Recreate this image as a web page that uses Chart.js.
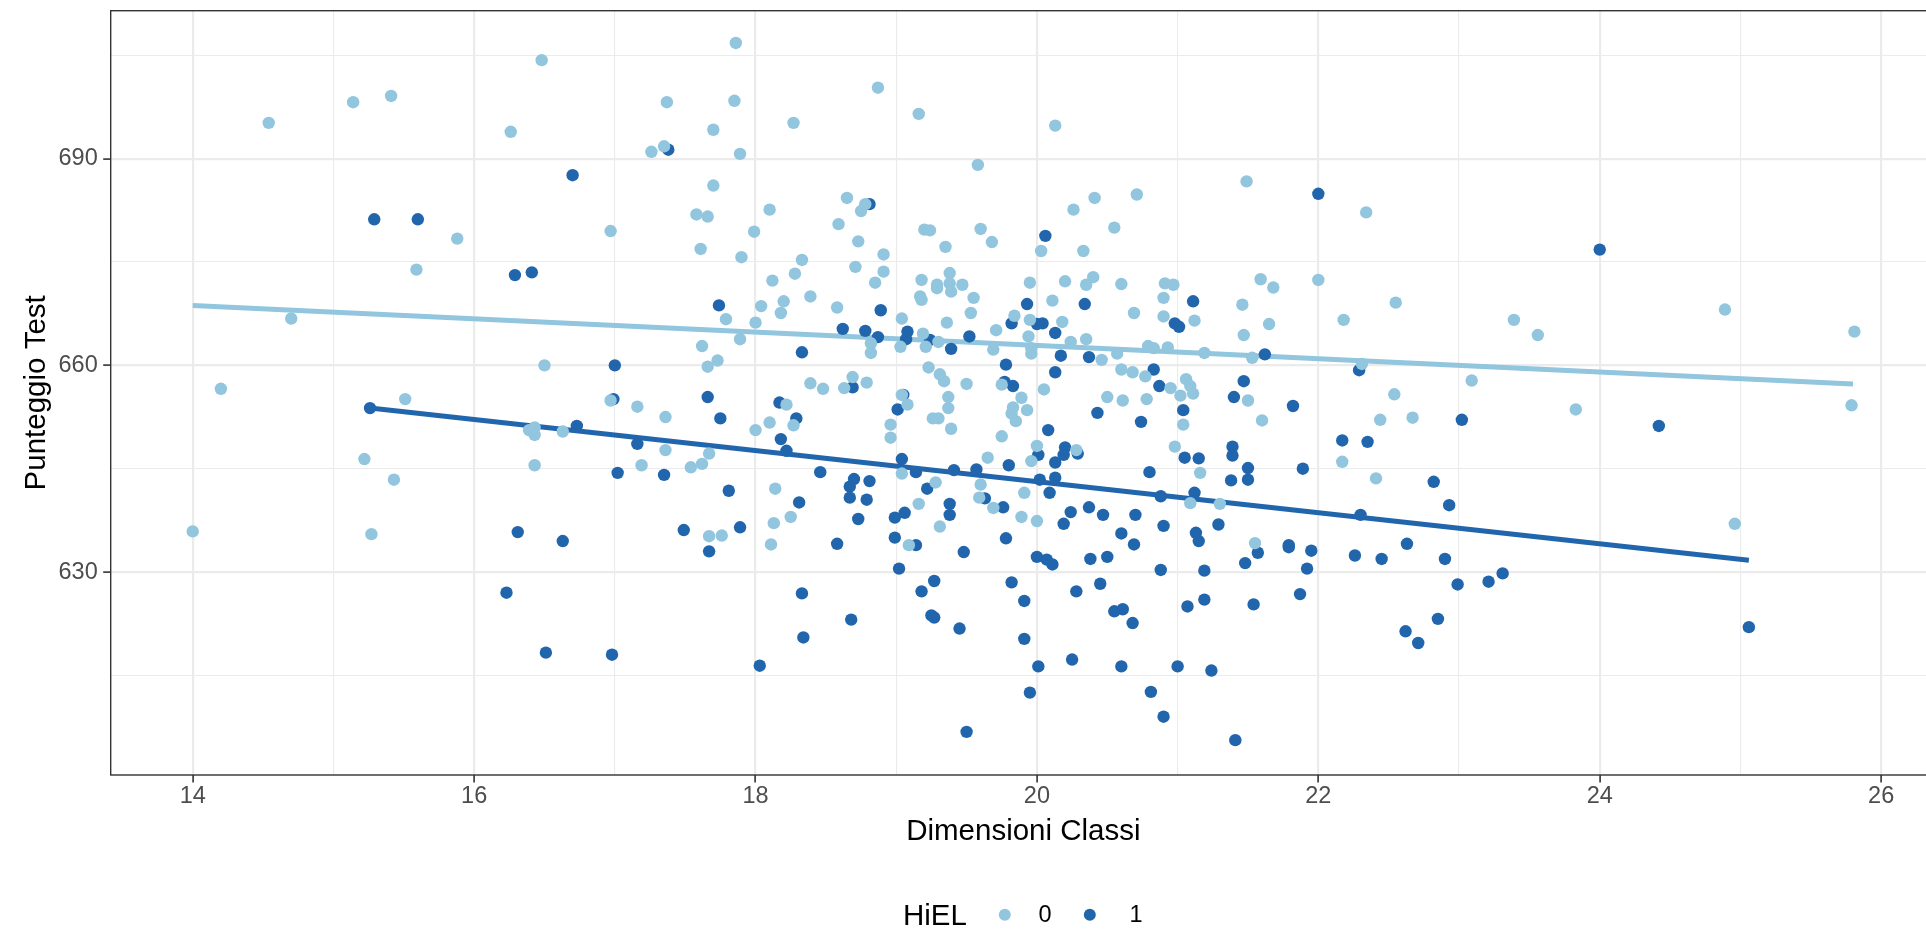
<!DOCTYPE html>
<html>
<head>
<meta charset="utf-8">
<script src="https://cdn.jsdelivr.net/npm/chart.js@4.4.1/dist/chart.umd.min.js"></script>
<style>
  html, body { margin: 0; padding: 0; background: #ffffff; overflow: hidden; width: 1926px; height: 929px; }
  #wrap { position: relative; width: 1946px; height: 929px; }
  #legend { position: absolute; left: 0; top: 0; width: 1926px; height: 929px; pointer-events: none;
            font-family: "Liberation Sans", Arial, sans-serif; color: #000000; }
  #legend span { position: absolute; white-space: nowrap; line-height: 1; transform: translateY(-50%); }
  #legend .dot { width: 12.4px; height: 12.4px; border-radius: 50%; transform: translate(-50%, -50%); }
</style>
</head>
<body>
<div id="wrap">
  <canvas id="c" width="1946" height="929"></canvas>
  <div id="legend"></div>
</div>
<script>
// ---- data ----
const seriesNames = ["0", "1"];
const legendTitle = "HiEL";
const xTitle = "Dimensioni Classi";
const yTitle = "Punteggio Test";

// HiEL = 0 (light)
const x0 = [16.48,14.54,15.14,15.41,16.26,15.88,15.59,
14.70,14.20,15.51,15.22,15.43,16.50,16.39,16.43,16.43,16.63,16.43,14.00,15.27,
17.86,18.87,17.37,17.85,17.70,18.27,17.26,17.35,17.89,17.70,16.97,17.58,17.66,18.10,17.99,17.61,17.90,18.65,18.78,18.75,18.59,18.73,18.91,18.33,18.71,18.28,18.91,
19.16,20.13,19.58,20.26,20.41,20.71,19.20,19.24,19.60,19.68,19.35,20.55,20.03,20.33,19.38,
21.49,22.34,
21.59,21.68,22.00,21.46,22.55,22.18,21.65,21.47,23.39,23.56,24.89,25.81,21.19,21.53,22.31,23.09,21.50,22.54,21.60,22.44,22.67,23.83,25.79,22.17,22.41,24.96,21.30,
21.55,18.11,19.09,
18.12,18.85,17.79,18.04,18.20,18.18,18.39,18.58,18.00,17.89,17.62,17.73,17.66,19.04,18.82,18.82,19.03,18.39,18.48,18.63,18.69,18.79,19.04,19.08,18.22,18.10,18.27,18.00,18.96,18.96,16.97,17.16,17.36,17.36,17.67,17.19,17.54,17.62,19.04,18.14,18.25,18.13,17.67,17.76,
19.18,19.29,19.29,19.38,19.39,19.47,19.17,19.18,19.55,19.53,19.36,19.71,19.19,19.21,19.30,19.69,19.95,20.20,20.35,20.40,20.60,20.91,20.97,20.11,19.84,19.95,20.18,19.94,19.96,19.96,20.24,20.35,20.46,20.57,20.69,20.90,20.90,21.12,20.79,20.83,20.93,19.23,19.31,19.34,19.50,19.37,19.37,19.26,19.30,19.39,19.75,19.89,19.83,19.82,19.85,19.93,20.05,20.60,20.68,20.77,20.50,20.61,20.78,20.95,21.02,21.06,21.09,21.11,21.04,20.98,19.75,19.65,20.00,19.96,20.28,21.16,19.28,19.60,19.59,19.16,19.69,19.91,19.89,20.00,19.31,21.09];
const y0 = [704.3,695.2,698.2,699.1,693.9,678.4,673.9,
666.8,656.6,655.1,646.4,643.4,660.0,650.6,651.0,649.9,650.4,645.5,635.9,635.5,
706.8,700.3,698.2,698.4,694.2,695.2,691.0,691.8,690.7,686.1,679.5,681.9,681.6,682.6,679.4,676.9,675.7,684.3,683.4,682.4,680.5,678.0,676.1,675.3,674.3,673.3,673.6,
696.5,694.8,689.1,682.6,684.3,684.8,679.7,679.6,679.8,677.9,677.2,680.0,676.6,676.6,673.4,
686.7,682.2,
672.5,671.3,672.4,668.8,669.1,666.6,666.0,664.4,666.6,664.4,668.1,664.9,661.8,661.1,660.2,657.8,654.9,655.8,652.0,652.1,652.4,653.6,654.2,646.0,643.6,637.0,639.9,
634.2,634.0,633.9,
672.3,672.0,666.7,668.6,669.3,667.6,670.0,668.4,666.2,663.8,662.8,660.7,659.8,666.8,663.2,661.8,662.7,657.4,656.6,656.7,658.3,657.5,655.7,654.3,654.3,651.7,651.3,650.6,651.4,649.5,654.9,654.0,652.5,647.7,647.2,645.5,645.2,645.7,644.3,642.1,638.0,637.1,635.2,635.3,
672.4,671.7,671.2,671.9,670.7,671.7,670.0,669.5,669.8,667.6,666.2,665.1,664.6,662.7,663.4,662.3,672.0,672.2,671.7,672.8,671.8,671.9,671.7,669.4,667.2,666.6,666.3,664.2,662.5,661.7,663.4,663.8,660.8,661.7,667.6,669.8,667.1,666.5,662.8,662.5,662.6,659.7,658.7,657.7,657.3,655.4,653.8,652.3,652.3,650.8,657.2,655.3,653.9,653.0,651.9,653.5,656.5,659.4,659.0,658.4,655.4,654.9,655.1,656.7,655.6,658.0,657.0,655.9,651.4,648.2,649.7,646.6,648.3,646.1,647.7,644.4,643.0,642.7,640.8,639.9,639.3,641.5,638.0,637.4,636.6,640.0];

// HiEL = 1 (dark)
const x1 = [15.29,15.60,16.29,16.41,
15.26,16.31,16.63,16.23,16.51,
17.38,16.70,18.81,20.06,22.00,24.00,
21.62,22.29,21.47,21.40,21.82,23.02,24.42,22.17,22.35,21.39,21.39,21.50,21.50,21.38,21.89,22.82,22.93,22.30,21.29,
21.57,21.79,21.79,21.95,21.48,22.26,22.45,22.63,22.90,21.19,21.92,22.99,23.21,23.31,21.19,21.54,21.87,22.85,22.62,22.71,25.06,21.24,21.41,
19.14,19.48,19.78,19.27,19.18,19.25,19.27,19.45,19.82,19.91,19.91,20.00,20.07,20.11,20.01,19.95,19.50,20.38,20.50,20.60,20.69,20.28,20.45,20.55,20.61,20.68,20.25,20.60,20.88,21.07,21.00,20.81,20.90,21.13,21.15,
17.67,18.58,18.99,19.02,18.33,18.68,18.34,18.03,16.98,
17.74,18.89,18.62,18.78,18.87,19.08,18.33,17.00,16.99,17.66,17.75,18.17,18.29,18.69,19.05,19.01,18.18,18.22,16.73,17.16,19.04,17.02,17.35,18.46,18.70,18.67,18.67,18.81,18.79,17.81,18.31,18.73,18.99,19.06,17.49,17.89,
19.93,20.34,21.11,19.07,19.24,19.39,19.52,19.82,20.00,20.04,20.13,20.17,20.37,20.13,19.78,19.77,19.83,20.98,21.01,20.83,20.87,21.04,20.43,20.74,20.08,21.05,21.15,20.80,20.01,20.13,20.19,20.20,20.29,19.80,19.14,19.41,19.57,20.02,20.13,20.09,19.22,19.63,19.38,19.38,19.76,20.24,20.37,20.47,20.70,20.88,21.12,20.19,20.90];
const y1 = [681.2,681.2,673.1,673.5,
653.8,635.8,634.5,627.0,618.3,
691.3,687.6,683.4,678.8,684.9,676.8,
661.6,659.3,657.7,655.4,654.1,652.1,651.2,649.1,648.9,648.2,646.9,645.1,643.4,643.3,645.0,643.1,639.7,638.3,636.9,
632.8,633.9,633.6,633.1,631.3,632.4,631.9,634.1,631.9,630.2,630.5,628.2,628.6,629.8,626.0,625.3,626.8,623.2,621.4,619.7,622.0,615.7,605.6,
633.9,632.9,634.9,628.7,627.2,623.7,623.4,621.8,628.5,625.8,620.3,632.2,631.8,631.1,616.3,612.5,606.8,631.9,632.2,635.6,634.0,627.2,628.3,624.3,624.6,622.6,617.3,616.3,630.3,625.0,616.3,612.6,609.0,635.7,634.5,
633.0,634.1,635.0,630.5,626.9,623.1,620.5,616.4,618.0,
668.7,668.0,665.3,665.0,664.1,664.9,661.9,660.0,655.1,655.4,652.3,654.6,652.3,656.8,655.7,653.6,649.3,647.6,651.2,648.6,646.4,644.4,644.1,644.5,643.5,642.4,640.8,643.2,640.5,641.8,640.1,637.7,637.9,638.6,636.1,636.5,
668.9,668.9,669.3,663.8,663.7,662.4,664.2,666.1,666.0,666.1,664.7,661.4,661.2,659.0,660.1,657.6,657.0,666.1,665.6,659.4,657.0,653.5,653.1,651.8,650.6,646.6,646.5,644.5,647.0,645.9,647.0,648.1,647.2,645.5,644.5,644.8,644.9,643.4,643.7,641.5,642.1,640.7,639.9,638.3,639.4,638.7,639.4,638.3,638.3,641.0,641.5,637.0,636.7];

// fitted lines (end points)
const fit0X = [14.0, 25.8];
const fit0Y = [668.7, 657.3];
const fit1X = [15.26, 25.06];
const fit1Y = [653.8, 631.7];

// axes (the panel runs past the right edge of the picture)
const xMin = 13.417, xMax = 26.39;
const yMin = 600.54, yMax = 711.48;
const xTickValues = [14,15,16,17,18,19,20,21,22,23,24,25,26];
const xTickLabels = ["14","","16","","18","","20","","22","","24","","26"];
const yTickValues = [615,630,645,660,675,690,705];
const yTickLabels = ["","630","","660","","690",""];

// ---- build ----
const LIGHT = "#92c5de", DARK = "#2166ac";
const pts = (xs, ys) => xs.map((v, i) => ({x: v, y: ys[i]}));
const FONT = "'Liberation Sans', Arial, sans-serif";
const isMajorX = v => xTickLabels[xTickValues.indexOf(v)] !== "";
const isMajorY = v => yTickLabels[yTickValues.indexOf(v)] !== "";

const panelBorder = {
  id: "panelBorder",
  afterDatasetsDraw(chart) {
    const {ctx, chartArea: a} = chart;
    ctx.save();
    ctx.strokeStyle = "#333333";
    ctx.lineWidth = 1.4;
    ctx.strokeRect(a.left, a.top, a.right - a.left, a.bottom - a.top);
    ctx.restore();
  }
};

new Chart(document.getElementById("c"), {
  type: "scatter",
  data: {
    datasets: [
      {label: seriesNames[0], data: pts(x0, y0), backgroundColor: LIGHT, borderWidth: 0, pointRadius: 6.2, order: 0},
      {label: seriesNames[1], data: pts(x1, y1), backgroundColor: DARK, borderWidth: 0, pointRadius: 6.2, order: 1},
      {type: "line", label: "fit0", data: pts(fit0X, fit0Y), borderColor: LIGHT, borderWidth: 5, pointRadius: 0, fill: false, order: 2},
      {type: "line", label: "fit1", data: pts(fit1X, fit1Y), borderColor: DARK, borderWidth: 5, pointRadius: 0, fill: false, order: 3}
    ]
  },
  options: {
    responsive: false,
    animation: false,
    events: [],
    layout: {padding: {left: 0, top: 10.7, right: 10, bottom: 79.3}},
    plugins: {legend: {display: false}, tooltip: {enabled: false}},
    scales: {
      x: {
        type: "linear", min: xMin, max: xMax,
        afterBuildTicks: s => { s.ticks = xTickValues.map(v => ({value: v})); },
        afterFit: s => { s.height = 74.7; s.paddingLeft = 0; s.paddingRight = 0; },
        ticks: {
          autoSkip: false, maxRotation: 0, minRotation: 0, padding: 0, color: "#4d4d4d",
          font: {family: FONT, size: 23.5},
          callback: (v, i) => xTickLabels[i]
        },
        grid: {
          color: "#ebebeb",
          lineWidth: c => (c.tick && isMajorX(c.tick.value)) ? 2.2 : 1.1,
          drawTicks: true, tickLength: 7.5,
          tickColor: c => (c.tick && isMajorX(c.tick.value)) ? "#333333" : "rgba(0,0,0,0)",
          tickWidth: 1.6
        },
        border: {display: false},
        title: {display: true, text: xTitle, color: "#000000", font: {family: FONT, size: 29.5}, padding: {top: 0, bottom: 0}}
      },
      y: {
        type: "linear", min: yMin, max: yMax,
        afterBuildTicks: s => { s.ticks = yTickValues.map(v => ({value: v})); },
        afterFit: s => { s.width = 110.7; s.paddingTop = 0; s.paddingBottom = 0; },
        ticks: {
          autoSkip: false, padding: 5.5, color: "#4d4d4d",
          font: {family: FONT, size: 23.5},
          callback: (v, i) => yTickLabels[i]
        },
        grid: {
          color: "#ebebeb",
          lineWidth: c => (c.tick && isMajorY(c.tick.value)) ? 2.2 : 1.1,
          drawTicks: true, tickLength: 7.5,
          tickColor: c => (c.tick && isMajorY(c.tick.value)) ? "#333333" : "rgba(0,0,0,0)",
          tickWidth: 1.6
        },
        border: {display: false},
        title: {display: true, text: yTitle, color: "#000000", font: {family: FONT, size: 29.5}, padding: {top: 19.3, bottom: 0}}
      }
    }
  },
  plugins: [panelBorder]
});

// HTML legend (real text)
const lg = document.getElementById("legend");
function addSpan(text, left, top, size) {
  const s = document.createElement("span");
  s.textContent = text; s.style.left = left + "px"; s.style.top = top + "px"; s.style.fontSize = size + "px";
  lg.appendChild(s);
}
function addDot(col, cx, cy) {
  const d = document.createElement("span");
  d.className = "dot"; d.style.background = col; d.style.left = cx + "px"; d.style.top = cy + "px";
  lg.appendChild(d);
}
const LEG_Y = 915;
addSpan(legendTitle, 903, LEG_Y, 29.5);
addDot(LIGHT, 1005, LEG_Y);
addSpan(seriesNames[0], 1038.5, LEG_Y, 23.5);
addDot(DARK, 1090, LEG_Y);
addSpan(seriesNames[1], 1129.5, LEG_Y, 23.5);
</script>
</body>
</html>
